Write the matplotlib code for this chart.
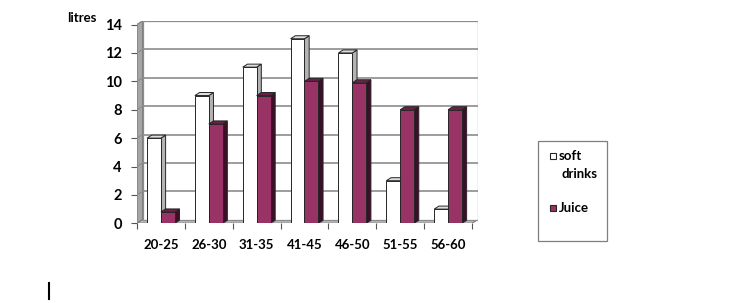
import numpy as np
import matplotlib.pyplot as plt
from matplotlib.patches import Polygon, Rectangle
from matplotlib.lines import Line2D

plt.rcParams['font.family'] = ['Lato', 'DejaVu Sans']

groups = ['20-25', '26-30', '31-35', '41-45', '46-50', '51-55', '56-60']
soft_drinks = [6, 9, 11, 13, 12, 3, 1]
juice = [0.8, 7, 9, 10, 9.9, 8, 8]
yticks = [0, 2, 4, 6, 8, 10, 12, 14]

W, H = 738, 303
fig = plt.figure(figsize=(W / 100, H / 100), dpi=100)

# depth of the fake 3D walls, in data units
dx = 0.115
dy = 0.25
ymax = 14

ax = fig.add_axes([137 / W, (H - 223.3) / H, (477.5 - 137) / W, (223.3 - 21) / H])
ax.set_xlim(-0.5, 6.5 + dx)
ax.set_ylim(0, ymax + dy)
for s in ax.spines.values():
    s.set_visible(False)

# walls
ax.add_patch(Polygon([(-0.5, 0), (-0.5 + dx, dy), (-0.5 + dx, ymax + dy), (-0.5, ymax)],
                     closed=True, facecolor='#a6a6a6', edgecolor='#7f7f7f', lw=0.8, zorder=1))
ax.add_patch(Polygon([(-0.5, 0), (6.5, 0), (6.5 + dx, dy), (-0.5 + dx, dy)],
                     closed=True, facecolor='#b8b8b8', edgecolor='#7f7f7f', lw=0.8, zorder=1))
ax.add_patch(Rectangle((-0.5 + dx, dy), 7, ymax, facecolor='white', edgecolor='#8c8c8c',
                       lw=0.9, zorder=1))
for t in yticks[1:]:
    ax.plot([-0.5 + dx, 6.5 + dx], [t + dy, t + dy], color='#8c8c8c', lw=1.2, zorder=1.5)
    ax.plot([-0.5, -0.5 + dx], [t, t + dy], color='#8c8c8c', lw=0.8, zorder=1.5)

# front axis lines
ax.plot([-0.5, -0.5], [0, ymax], color='#8c8c8c', lw=0.8, zorder=1.6)
ax.plot([-0.5, 6.5], [0, 0], color='#8c8c8c', lw=0.8, zorder=1.6)

x = np.arange(len(groups))
w = 0.29
bdx = dx * 0.85
bdy = dy * 0.85


def bar3d(x0, h, front, side, top, z):
    ax.bar(x0, h, w, align='edge', color=front, edgecolor='#262626', lw=0.7, zorder=z + 0.2)
    ax.add_patch(Polygon([(x0 + w, 0), (x0 + w + bdx, bdy), (x0 + w + bdx, h + bdy), (x0 + w, h)],
                         closed=True, facecolor=side, edgecolor='#262626', lw=0.7, zorder=z))
    ax.add_patch(Polygon([(x0, h), (x0 + w, h), (x0 + w + bdx, h + bdy), (x0 + bdx, h + bdy)],
                         closed=True, facecolor=top, edgecolor='#262626', lw=0.7, zorder=z + 0.1))


for i in range(len(groups)):
    bar3d(x[i] - w, soft_drinks[i], 'white', '#b3b3b3', '#dedede', 3 + i)
    bar3d(x[i], juice[i], '#993366', '#3d0f26', '#6e1f47', 3.5 + i)

ax.set_yticks(yticks)
ax.set_yticklabels([str(t) for t in yticks], fontsize=10.5, fontweight='bold')
ax.tick_params(axis='y', length=4, width=0.8, color='#555555', pad=7)
ax.set_xticks(x)
ax.set_xticklabels(groups, fontsize=9.5, fontweight='bold')
ax.set_xticks(np.arange(-0.5, 7, 1), minor=True)
ax.tick_params(axis='x', which='major', length=0, pad=11)
ax.tick_params(axis='x', which='minor', length=4, width=0.8, color='#555555')

fig.text(67 / W, 1 - 18 / H, 'litres', fontsize=9.5, fontweight='bold', va='center', ha='left')

# legend box
fig.patches.append(Rectangle((538 / W, 1 - 241 / H), 69 / W, 100 / H, transform=fig.transFigure,
                             facecolor='white', edgecolor='#7f7f7f', lw=0.9))
fig.patches.append(Rectangle((550 / W, 1 - 159 / H), 6 / W, 6 / H, transform=fig.transFigure,
                             facecolor='white', edgecolor='#262626', lw=0.8))
fig.patches.append(Rectangle((550 / W, 1 - 211 / H), 6 / W, 6 / H, transform=fig.transFigure,
                             facecolor='#993366', edgecolor='#262626', lw=0.8))
fig.text(559 / W, 1 - 156 / H, 'soft', fontsize=9.5, fontweight='bold', va='center')
fig.text(561 / W, 1 - 174 / H, 'drinks', fontsize=9.5, fontweight='bold', va='center')
fig.text(559 / W, 1 - 208 / H, 'Juice', fontsize=9.5, fontweight='bold', va='center')

# text cursor visible in the original screenshot
fig.add_artist(Line2D([49 / W, 49 / W], [1 - 283 / H, 1 - 299 / H], color='black', lw=1.5))

fig.savefig('out.png', dpi=100)
